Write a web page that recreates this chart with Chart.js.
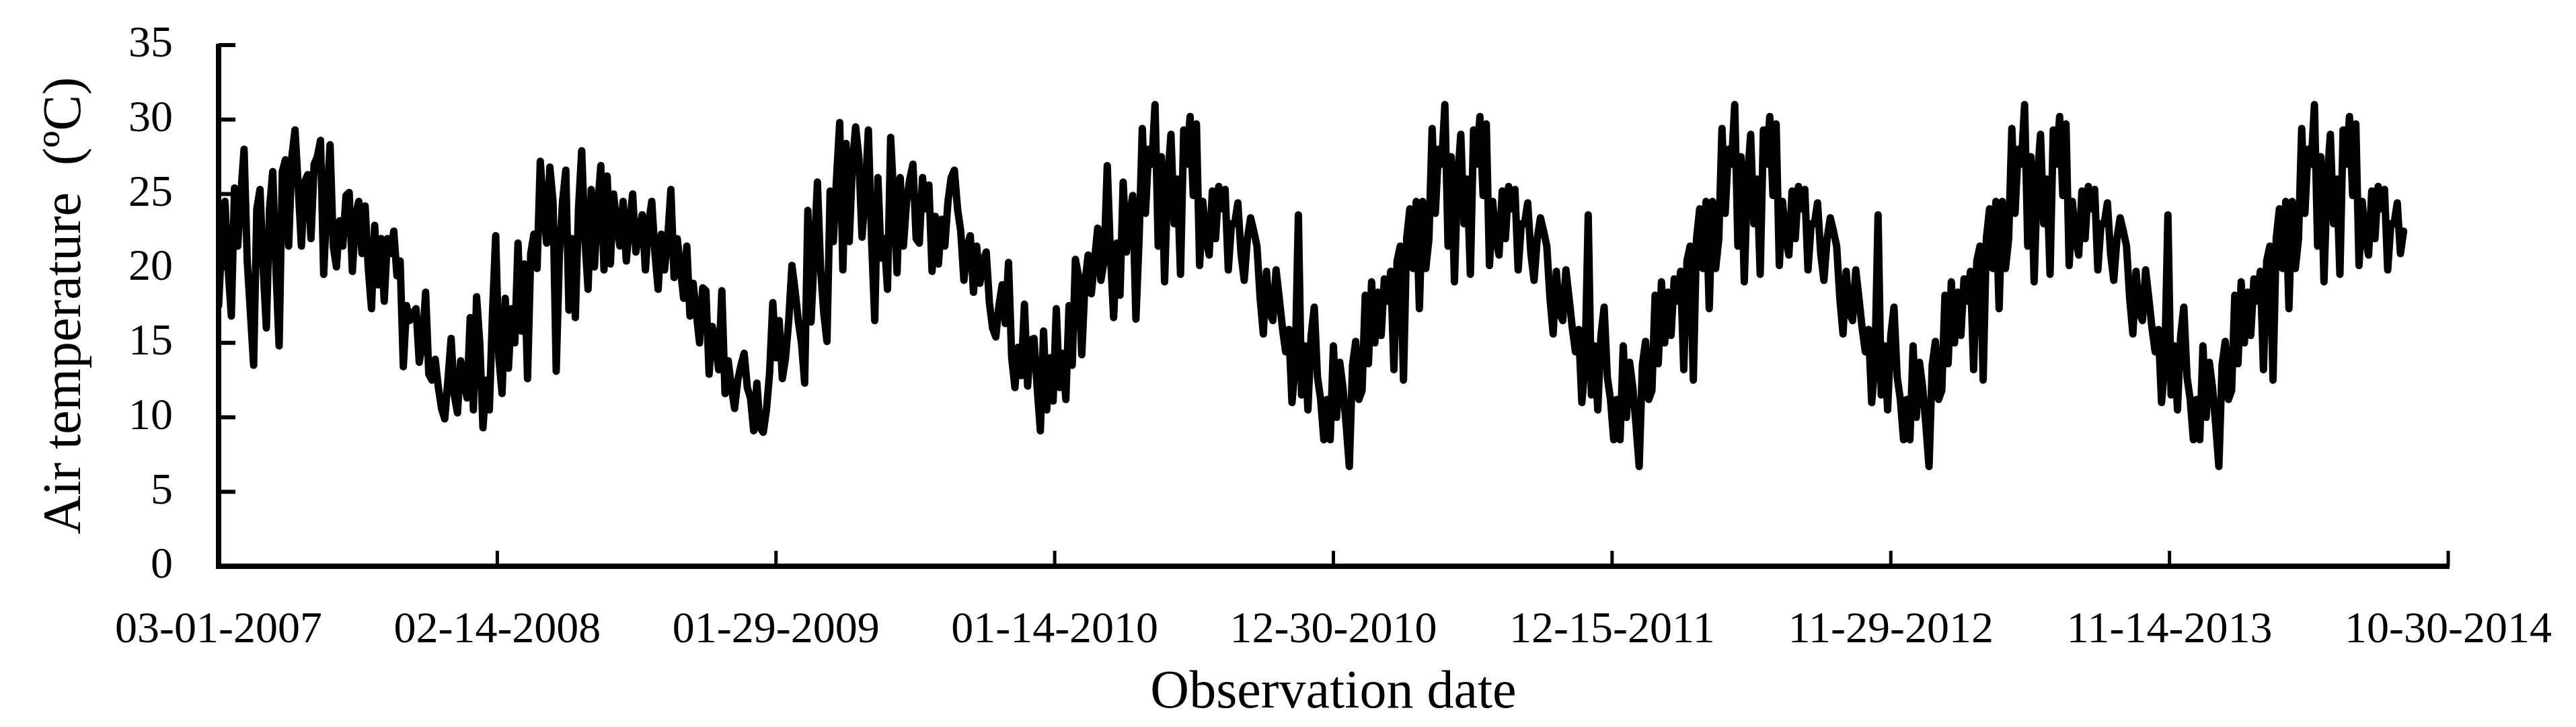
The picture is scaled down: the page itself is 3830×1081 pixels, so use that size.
<!DOCTYPE html>
<html>
<head>
<meta charset="utf-8">
<title>Air temperature</title>
<script src="https://cdn.jsdelivr.net/npm/chart.js@4.4.1/dist/chart.umd.min.js"></script>
<style>
    html, body { margin: 0; padding: 0; background: #fff; }
    #wrap { width: 3830px; height: 1081px; position: relative; }
</style>
</head>
<body>
<div id="wrap"><canvas id="tempChart"></canvas></div>
<script>
// one reading every 4 days, starting 03-01-2007
const stepDays = 4;

const dateTicks = ['03-01-2007', '02-14-2008', '01-29-2009', '01-14-2010', '12-30-2010',
    '12-15-2011', '11-29-2012', '11-14-2013', '10-30-2014'];

// Mar 2007 - Feb 2008
const periodA = [
    17.5, 22, 24.5, 20, 16.8, 25.4, 21.5, 25, 28, 20.5,
    17, 13.5, 24, 25.3, 20, 16, 24, 26.5, 20, 14.8,
    26.5, 27.3, 21.5, 27.5, 29.3, 25.5, 21.5, 25.8, 26.3, 22,
    27, 27.5, 28.6, 19.6, 24.5, 28.3, 21.5, 20.1, 23.2, 21.5,
    24.9, 25.1, 19.8, 23.5, 24.5, 21, 24.2, 20, 17.3, 22.9,
    18.9, 22, 17.8, 22, 21, 22.5, 19.5, 20.5, 13.4, 17.5,
    16.5, 17, 17.3, 13.7, 15, 18.4, 12.9, 12.5, 13.9, 12,
    10.6, 9.9, 12.5, 15.3, 11.5, 10.3, 13.8, 12.5, 11.3, 16.7,
    10.5, 18.1, 15, 9.3, 12.5
];

// Feb 2008 - Jan 2009
const periodB = [
    10.5, 17, 22.2, 14, 11.6, 18, 13.3, 17.3, 15, 21.7,
    15.8, 20.3, 12.6, 21, 22.3, 20, 27.2, 24, 21.7, 26.8,
    24.5, 13.1, 21, 24.5, 26.6, 17.2, 22, 16.7, 24, 27.9,
    22, 18.6, 25.3, 20.1, 24, 26.9, 19.9, 26.2, 20.3, 25,
    23, 21.5, 24.5, 20.5, 23, 25, 21.1, 22.5, 23.6, 19.9,
    23, 24.5, 21, 18.6, 22.3, 19.9, 22, 25.3, 19.4, 22,
    20, 18, 21.5, 16.8, 19, 17, 15, 18.7, 18.5, 12.9,
    16.1, 15, 13.2, 18.5, 11.6, 13.8, 12, 10.6, 12.5, 13.5,
    14.3, 12, 11.3, 9.1, 12.3, 9.3
];

// Jan 2009 - Jan 2010
const periodC = [
    9.0, 10.5, 13, 17.7, 14, 16.5, 12.6, 14, 16.5, 20.2,
    18.5, 16.5, 15, 12.3, 23.9, 16.4, 21, 25.8, 20, 17,
    15.1, 25.2, 21.8, 26, 29.8, 19.9, 28.4, 21.8, 27, 29.5,
    27.5, 22.1, 25, 29.3, 22, 16.5, 26.1, 20.7, 22, 18.6,
    28.8, 24.5, 19.7, 26.1, 21.5, 24.5, 26, 27, 22, 21.7,
    26.1, 24, 25.6, 19.8, 23.5, 20.3, 23.3, 21.5, 24.5, 26.1,
    26.6, 24, 22.5, 19.2, 21.5, 22.2, 18.4, 21.5, 19, 20.5,
    21.1, 17.7, 16, 15.4, 17.5, 18.9, 16.3, 20.4, 14, 12,
    14.7, 12.8, 17.6, 12.1, 15.2
];

// Jan 2010 - Apr 2010
const periodD = [
    15.3, 12, 9.1, 15.8, 10.5, 14, 11.1, 17.3, 12, 14.3,
    11.2, 17.5, 13.5, 20.6, 19.5, 14.2, 19, 20.9, 18.3, 20.5,
    22.7, 19.2, 20.5, 26.9, 21, 16.7, 21.7, 18.2, 25.8, 21.1,
    23.5, 24.9, 16.6
];

// from spring 2010 on, every year shows the same profile
const cycle2010 = [
    22, 29.4, 23.7, 28, 27, 31.0, 21.5, 27.5, 19.1, 26,
    29.0, 23.0, 26, 19.6, 29.3, 27, 30.2, 24.9, 29.7, 20.2,
    24.5, 22, 20.9, 25.2, 22, 25.5, 24, 25.3, 19.9, 23,
    23, 24.4, 21, 19.2, 22, 23.4, 22.5, 21.5, 18, 15.6,
    19.8, 17, 16.5, 19.9, 18, 16, 14.4, 15.9, 11, 13.5,
    23.6, 11.5, 14.8, 10.5, 15.5, 17.4, 12.7, 11.2, 8.5, 11.2,
    8.5, 14.8, 10, 13.7, 12, 9.5, 6.7, 13.5, 15.1, 11.2,
    11.8, 18.2, 13.6, 19.1, 15, 18.4, 15.5, 19.3, 17.8, 19.8,
    13.2, 20.5, 21.5, 12.5, 22, 24, 20, 24.5, 17.3, 24.5,
    20
];

const cycle2011 = [
    22, 29.4, 23.7, 28, 27, 31.0, 21.5, 27.5, 19.1, 26,
    29.0, 23.0, 26, 19.6, 29.3, 27, 30.2, 24.9, 29.7, 20.2,
    24.5, 22, 20.9, 25.2, 22, 25.5, 24, 25.3, 19.9, 23,
    23, 24.4, 21, 19.2, 22, 23.4, 22.5, 21.5, 18, 15.6,
    19.8, 17, 16.5, 19.9, 18, 16, 14.4, 15.9, 11, 13.5,
    23.6, 11.5, 14.8, 10.5, 15.5, 17.4, 12.7, 11.2, 8.5, 11.2,
    8.5, 14.8, 10, 13.7, 12, 9.5, 6.7, 13.5, 15.1, 11.2,
    11.8, 18.2, 13.6, 19.1, 15, 18.4, 15.5, 19.3, 17.8, 19.8,
    13.2, 20.5, 21.5, 12.5, 22, 24, 20, 24.5, 17.3, 24.5,
    20
];

const cycle2012 = [
    22, 29.4, 23.7, 28, 27, 31.0, 21.5, 27.5, 19.1, 26,
    29.0, 23.0, 26, 19.6, 29.3, 27, 30.2, 24.9, 29.7, 20.2,
    24.5, 22, 20.9, 25.2, 22, 25.5, 24, 25.3, 19.9, 23,
    23, 24.4, 21, 19.2, 22, 23.4, 22.5, 21.5, 18, 15.6,
    19.8, 17, 16.5, 19.9, 18, 16, 14.4, 15.9, 11, 13.5,
    23.6, 11.5, 14.8, 10.5, 15.5, 17.4, 12.7, 11.2, 8.5, 11.2,
    8.5, 14.8, 10, 13.7, 12, 9.5, 6.7, 13.5, 15.1, 11.2,
    11.8, 18.2, 13.6, 19.1, 15, 18.4, 15.5, 19.3, 17.8, 19.8,
    13.2, 20.5, 21.5, 12.5, 22, 24, 20, 24.5, 17.3, 24.5,
    20
];

const cycle2013 = [
    22, 29.4, 23.7, 28, 27, 31.0, 21.5, 27.5, 19.1, 26,
    29.0, 23.0, 26, 19.6, 29.3, 27, 30.2, 24.9, 29.7, 20.2,
    24.5, 22, 20.9, 25.2, 22, 25.5, 24, 25.3, 19.9, 23,
    23, 24.4, 21, 19.2, 22, 23.4, 22.5, 21.5, 18, 15.6,
    19.8, 17, 16.5, 19.9, 18, 16, 14.4, 15.9, 11, 13.5,
    23.6, 11.5, 14.8, 10.5, 15.5, 17.4, 12.7, 11.2, 8.5, 11.2,
    8.5, 14.8, 10, 13.7, 12, 9.5, 6.7, 13.5, 15.1, 11.2,
    11.8, 18.2, 13.6, 19.1, 15, 18.4, 15.5, 19.3, 17.8, 19.8,
    13.2, 20.5, 21.5, 12.5, 22, 24, 20, 24.5, 17.3, 24.5,
    20
];

// spring - summer 2014 (record stops early Sept)
const tail2014 = [
    22, 29.4, 23.7, 28, 27, 31.0, 21.5, 27.5, 19.1, 26,
    29.0, 23.0, 26, 19.6, 29.3, 27, 30.2, 24.9, 29.7, 20.2,
    24.5, 22, 20.9, 25.2, 22, 25.5, 24, 25.3, 19.9, 23,
    23, 24.4, 21, 22.5
];

// axis lines with short inward ticks, like the original figure
const axisLines = {
    id: 'axisLines',
    afterDraw(chart) {
        const ctx = chart.ctx;
        const area = chart.chartArea;
        const xScale = chart.scales.x;
        const yScale = chart.scales.y;
        ctx.save();
        ctx.strokeStyle = '#000';
        ctx.lineWidth = 8;
        ctx.lineJoin = 'miter';
        ctx.beginPath();
        ctx.moveTo(area.left, area.top - 2);
        ctx.lineTo(area.left, area.bottom);
        ctx.lineTo(area.right + 2, area.bottom);
        ctx.stroke();

        ctx.lineWidth = 6;
        ctx.beginPath();
        yScale.ticks.forEach(function(t) {
            const py = yScale.getPixelForValue(t.value);
            ctx.moveTo(area.left, py);
            ctx.lineTo(area.left + 25, py);
        });
        ctx.stroke();

        ctx.lineWidth = 5;
        ctx.beginPath();
        xScale.ticks.forEach(function(t) {
            const px = xScale.getPixelForValue(t.value);
            ctx.moveTo(px, area.bottom);
            ctx.lineTo(px, area.bottom - 23);
        });
        ctx.stroke();
        ctx.restore();
    }
};

document.addEventListener('DOMContentLoaded', function() {
    const temps = [].concat(periodA, periodB, periodC, periodD,
        cycle2010, cycle2011, cycle2012, cycle2013, tail2014);
    const points = temps.map(function(t, i) {
        return { x: i * stepDays, y: t };
    });

    Chart.defaults.font.family = "'Liberation Serif', 'DejaVu Serif', serif";
    Chart.defaults.color = '#000';

    const ctx = document.getElementById('tempChart').getContext('2d');
    new Chart(ctx, {
        type: 'line',
        data: {
            datasets: [{
                label: 'Air temperature',
                data: points,
                borderColor: '#000',
                borderWidth: 11,
                borderJoinStyle: 'round',
                borderCapStyle: 'round',
                pointRadius: 0,
                tension: 0,
                fill: false
            }]
        },
        options: {
            responsive: true,
            maintainAspectRatio: false,
            animation: false,
            layout: {
                padding: { top: 67, right: 190, bottom: 0, left: 0 }
            },
            plugins: {
                legend: { display: false },
                tooltip: { enabled: false }
            },
            scales: {
                x: {
                    type: 'linear',
                    min: 0,
                    max: 2800,
                    grid: { display: false, drawTicks: false },
                    border: { display: false },
                    ticks: {
                        stepSize: 350,
                        maxRotation: 0,
                        autoSkip: false,
                        padding: 56,
                        font: { size: 66, lineHeight: 1.2 },
                        callback: function(value, index) {
                            return dateTicks[index];
                        }
                    },
                    title: {
                        display: true,
                        text: 'Observation date',
                        font: { size: 80, lineHeight: 1.2 },
                        padding: { top: 0, bottom: 2 }
                    },
                    afterFit: function(scale) {
                        scale.height = 239;
                        scale.paddingLeft = 0;
                        scale.paddingRight = 0;
                    }
                },
                y: {
                    min: 0,
                    max: 35,
                    grid: { display: false, drawTicks: false },
                    border: { display: false },
                    ticks: {
                        stepSize: 5,
                        padding: 68,
                        font: { size: 66, lineHeight: 1.2 }
                    },
                    title: {
                        display: true,
                        text: 'Air temperature  (ºC)',
                        font: { size: 80, lineHeight: 1.2 },
                        padding: { top: 50, bottom: 0 }
                    },
                    afterFit: function(scale) {
                        scale.width = 325;
                        scale.paddingTop = 0;
                        scale.paddingBottom = 0;
                    }
                }
            }
        },
        plugins: [axisLines]
    });
});
</script>
</body>
</html>
